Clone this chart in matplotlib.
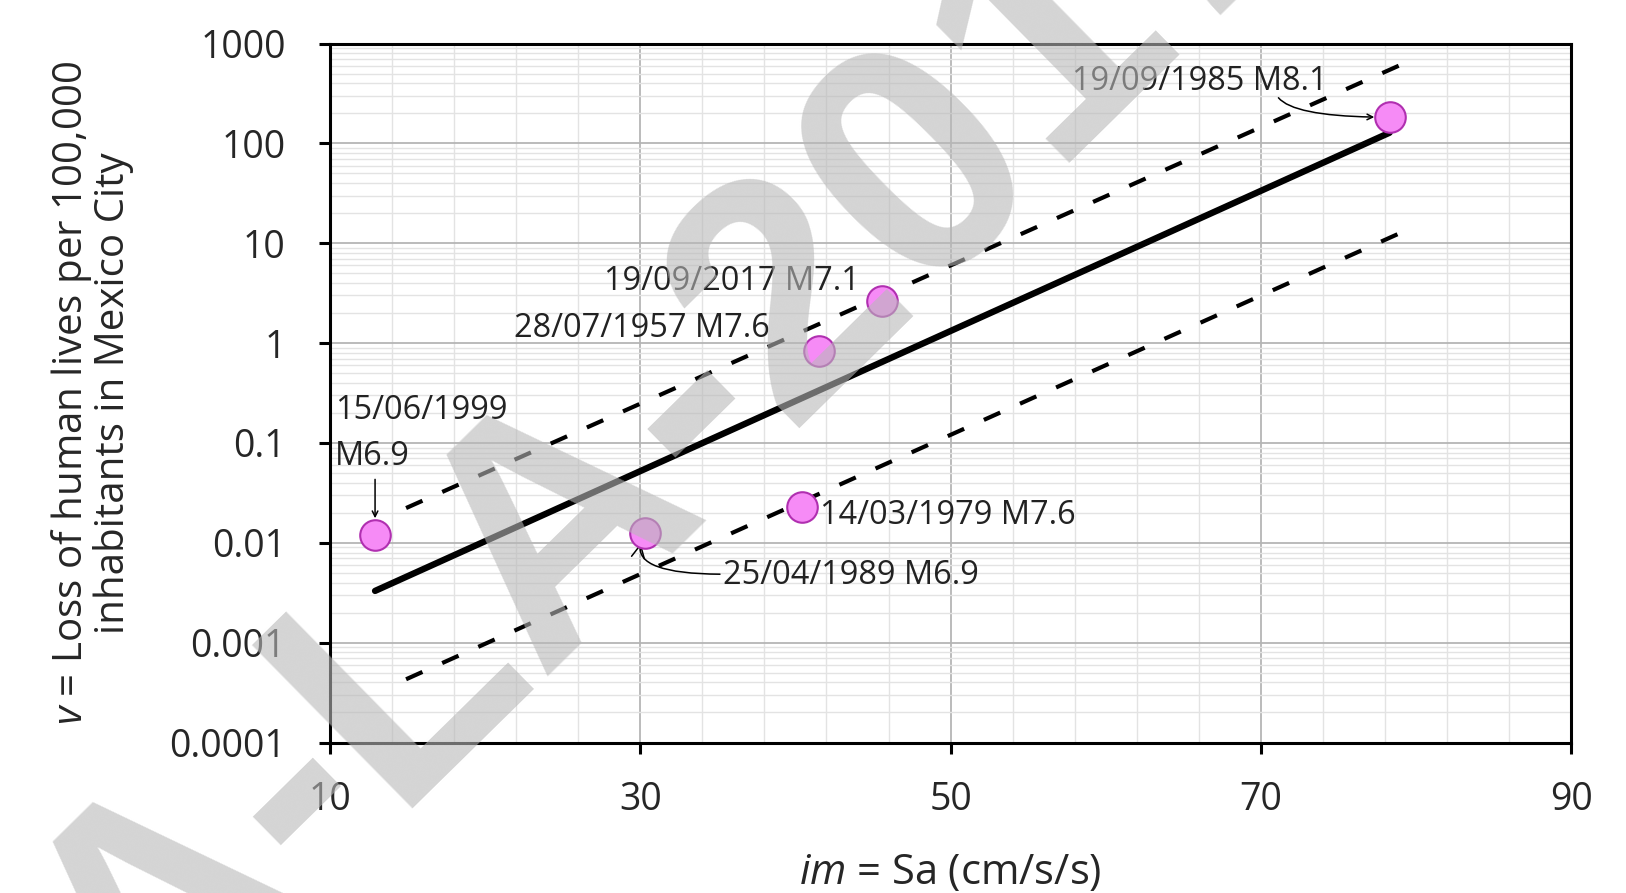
import matplotlib
matplotlib.use("Agg")
import matplotlib.pyplot as plt
from matplotlib.ticker import FixedLocator, LogLocator, NullFormatter
import numpy as np

# ---------------- data ----------------
events = ["15/06/1999\nM6.9", "25/04/1989 M6.9", "14/03/1979 M7.6",
          "28/07/1957 M7.6", "19/09/2017 M7.1", "19/09/1985 M8.1"]
sa_values = [12.9, 30.3, 40.4, 41.5, 45.6, 78.3]
loss_values = [0.012, 0.0126, 0.0228, 0.84, 2.66, 183]

fit_sa = [12.9, 78.3]
fit_loss = [0.0033, 128]
upper_sa = [14.9, 79.1]
upper_loss = [0.0223, 620]
lower_sa = [14.9, 79.1]
lower_loss = [0.00043, 12.9]

x_ticks = [10, 30, 50, 70, 90]
y_ticks = [0.0001, 0.001, 0.01, 0.1, 1, 10, 100, 1000]
y_tick_labels = ["0.0001", "0.001", "0.01", "0.1", "1", "10", "100", "1000"]

# ---------------- style ----------------
plt.rcParams["font.family"] = ["Open Sans", "DejaVu Sans"]
plt.rcParams["mathtext.fontset"] = "custom"
plt.rcParams["mathtext.rm"] = "Open Sans"
plt.rcParams["mathtext.it"] = "Open Sans:italic"

fig = plt.figure(figsize=(16.26, 8.93), dpi=100)
ax = fig.add_axes([0.2030, 0.1685, 0.7632, 0.7827])

ax.set_yscale("log")
ax.set_xlim(10, 90)
ax.set_ylim(1e-4, 1e3)
ax.set_xticks(x_ticks)
ax.xaxis.set_minor_locator(FixedLocator(np.arange(10, 91, 4)))
ax.set_yticks(y_ticks, y_tick_labels)
ax.yaxis.set_minor_locator(LogLocator(base=10, subs=np.arange(2, 10), numticks=30))
ax.yaxis.set_minor_formatter(NullFormatter())

ax.grid(which="major", color="#b5b5b5", lw=1.3)
ax.grid(which="minor", color="#e3e3e3", lw=1.0)
ax.set_axisbelow(True)

ax.tick_params(which="minor", length=0)
ax.tick_params(which="major", direction="out", length=8, width=2.2,
               labelsize=27, labelcolor="#262626")
ax.tick_params(axis="y", pad=24)
ax.tick_params(axis="x", pad=20)
for s in ax.spines.values():
    s.set_linewidth(2.2)
    s.set_color("black")

# lines
ax.plot(fit_sa, fit_loss, color="black", lw=4.6, solid_capstyle="round", zorder=3)
ax.plot(upper_sa, upper_loss, color="black", lw=3, dashes=(4.3, 5.2), zorder=3)
ax.plot(lower_sa, lower_loss, color="black", lw=3, dashes=(4.3, 5.2), zorder=3)

# points
ax.plot(sa_values, loss_values, linestyle="none", marker="o", ms=22,
        mfc="#f68bf6", mec="#b02fb0", mew=1.5, zorder=5)

txt = dict(fontsize=23.4, color="#222222")
arrow = dict(arrowstyle="->", color="black", lw=1.1, shrinkA=0)

# 1999
ax.annotate(events[0], xy=(sa_values[0], loss_values[0]), xytext=(-29, 73),
            textcoords="offset points", ha="left", va="center",
            linespacing=1.5, **txt)
ax.annotate("", xy=(sa_values[0], loss_values[0]), xytext=(0, 40),
            textcoords="offset points",
            arrowprops=dict(arrow, shrinkB=12))
# 1989
ax.annotate(events[1], xy=(sa_values[1], loss_values[1]), xytext=(56, -31),
            textcoords="offset points", ha="left", va="center",
            arrowprops=dict(arrow, shrinkB=8, relpos=(0, 0.55),
                            connectionstyle="angle3,angleA=0,angleB=60"), **txt)
# 1979
ax.annotate(events[2], xy=(sa_values[2], loss_values[2]), xytext=(13, -6),
            textcoords="offset points", ha="left", va="center", **txt)
# 1957
ax.annotate(events[3], xy=(sa_values[3], loss_values[3]), xytext=(-35, 16),
            textcoords="offset points", ha="right", va="center", **txt)
# 2017
ax.annotate(events[4], xy=(sa_values[4], loss_values[4]), xytext=(-16, 14),
            textcoords="offset points", ha="right", va="center", **txt)
# 1985
ax.annotate(events[5], xy=(sa_values[5], loss_values[5]), xytext=(-137, 26),
            textcoords="offset points", ha="center", va="center", **txt)
ax.annotate("", xy=(sa_values[5], loss_values[5]), xytext=(-80, 14),
            textcoords="offset points",
            arrowprops=dict(arrow, shrinkB=11,
                            connectionstyle="angle3,angleA=-50,angleB=0"))

ax.set_ylabel("$v$ = Loss of human lives per 100,000\ninhabitants in Mexico City",
              fontsize=29, color="#262626", linespacing=0.97)
ax.yaxis.set_label_coords(-0.158, 0.5)
ax.set_xlabel("$im$ = Sa (cm/s/s)", fontsize=30, color="#262626")
ax.xaxis.set_label_coords(0.5, -0.157)

# watermark
fig.text(146 / 1626, 1 - 1062.5 / 893, "A-LA-2017", rotation=44.5,
         rotation_mode="anchor", ha="left", va="baseline", fontsize=239,
         family="Liberation Sans", fontweight="bold",
         color=(0.72, 0.72, 0.72), alpha=0.6, zorder=10)

fig.savefig("out.png", dpi=100)
